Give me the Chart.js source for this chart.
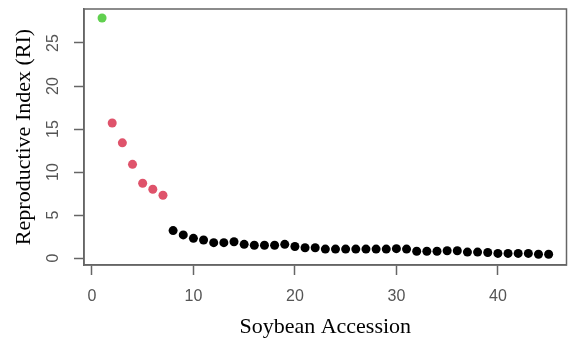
<!DOCTYPE html>
<html>
<head>
<meta charset="utf-8">
<script src="https://cdn.jsdelivr.net/npm/chart.js@4"></script>
<style>
  html, body { margin: 0; padding: 0; background: #fff; }
  #wrap { width: 571px; height: 341px; }
</style>
</head>
<body>
<div id="wrap"><canvas id="myChart" width="571" height="341"></canvas></div>
<script>
// accession number (x) and reproductive index (y)
let accession = [1, 2, 3, 4, 5, 6, 7, 8, 9, 10, 11, 12, 13, 14, 15, 16, 17, 18, 19, 20, 21, 22, 23,
    24, 25, 26, 27, 28, 29, 30, 31, 32, 33, 34, 35, 36, 37, 38, 39, 40, 41, 42, 43, 44, 45];
let ri_values = [27.9, 15.7, 13.4, 10.9, 8.7, 8.0, 7.3, 3.2, 2.7, 2.3, 2.1, 1.8, 1.8, 1.9, 1.6, 1.5,
    1.5, 1.5, 1.6, 1.35, 1.2, 1.2, 1.05, 1.05, 1.05, 1.05, 1.05, 1.05, 1.05, 1.1, 1.05, 0.8, 0.8,
    0.8, 0.85, 0.85, 0.7, 0.7, 0.65, 0.55, 0.55, 0.55, 0.55, 0.45, 0.45];
// colour group of each point: 1 = top, 2 = high, 3 = rest
let group = [1, 2, 2, 2, 2, 2, 2, 3, 3, 3, 3, 3, 3, 3, 3, 3, 3, 3, 3, 3, 3, 3, 3,
    3, 3, 3, 3, 3, 3, 3, 3, 3, 3, 3, 3, 3, 3, 3, 3, 3, 3, 3, 3, 3, 3];
let x_ticks = [0, 10, 20, 30, 40];
let y_ticks = [0, 5, 10, 15, 20, 25];

let group_colors = { 1: '#61D04F', 2: '#DF536B', 3: '#000000' };

let points = [];
for (let i = 0; i < accession.length; i++) {
    points.push({ x: accession[i], y: ri_values[i] });
}
let colors = group.map(g => group_colors[g]);

// R-style box around the plot area
const boxPlugin = {
    id: 'box',
    afterDraw(chart) {
        const a = chart.chartArea;
        const ctx = chart.ctx;
        ctx.save();
        ctx.strokeStyle = '#666';
        ctx.lineWidth = 1.5;
        ctx.strokeRect(a.left, a.top, a.right - a.left, a.bottom - a.top);
        ctx.restore();
    }
};

let tickFont = { family: 'Liberation Sans', size: 16 };
let titleFont = { family: 'Liberation Serif', size: 22 };

let ctx = document.getElementById('myChart').getContext('2d');
let myChart = new Chart(ctx, {
    type: 'scatter',
    data: {
        datasets: [{
            label: 'RI',
            data: points,
            pointBackgroundColor: colors,
            pointBorderColor: colors,
            pointRadius: 4.5,
            pointBorderWidth: 0,
            showLine: false
        }]
    },
    options: {
        responsive: false,
        animation: false,
        layout: { padding: { top: 9, right: 2, bottom: 0, left: 0 } },
        plugins: {
            legend: { display: false },
            tooltip: { enabled: false }
        },
        scales: {
            x: {
                type: 'linear',
                min: -0.78,
                max: 46.76,
                afterFit: s => { s.height = 76; s.paddingLeft = 0; s.paddingRight = 0; },
                afterBuildTicks: s => { s.ticks = x_ticks.map(v => ({ value: v })); },
                ticks: { font: tickFont, color: '#555', padding: 12, maxRotation: 0 },
                grid: { drawOnChartArea: false, tickLength: 10, color: '#666', tickWidth: 1.5 },
                border: { color: '#666', width: 1.5 },
                title: {
                    display: true,
                    text: 'Soybean Accession',
                    font: titleFont,
                    color: '#000',
                    padding: { top: 0, bottom: 1 }
                }
            },
            y: {
                type: 'linear',
                min: -0.8,
                max: 28.95,
                afterFit: s => { s.width = 84; s.paddingTop = 0; s.paddingBottom = 0; },
                afterBuildTicks: s => { s.ticks = y_ticks.map(v => ({ value: v })); },
                ticks: {
                    font: tickFont, color: '#555', padding: 12,
                    minRotation: 90, maxRotation: 90, crossAlign: 'center'
                },
                grid: { drawOnChartArea: false, tickLength: 10, color: '#666', tickWidth: 1.5 },
                border: { color: '#666', width: 1.5 },
                title: {
                    display: true,
                    text: 'Reproductive Index (RI)',
                    font: titleFont,
                    color: '#000',
                    padding: { top: 11, bottom: 0 }
                }
            }
        }
    },
    plugins: [boxPlugin]
});
</script>
</body>
</html>
